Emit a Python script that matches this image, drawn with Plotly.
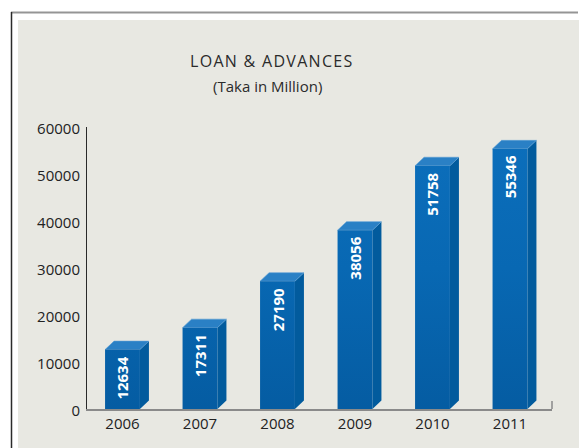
import plotly.graph_objects as go

# Loan & advances, Taka in million
years = ["2006", "2007", "2008", "2009", "2010", "2011"]
loans = [12634, 17311, 27190, 38056, 51758, 55346]
y_ticks = [0, 10000, 20000, 30000, 40000, 50000, 60000]

# canvas / plot-area geometry (pixels)
W, H = 579, 448
L, R, T, B = 87, 27, 127, 39
PW, PH = W - L - R, H - T - B
X_RANGE = [-0.458, len(years) - 0.458]
Y_RANGE = [0, 60000]

BAR_W = 0.45          # front face width in category units
DEPTH_PX = (9, 8.5)   # 3-D offset of the side / top faces in pixels
dx = DEPTH_PX[0] * (X_RANGE[1] - X_RANGE[0]) / PW
dy = DEPTH_PX[1] * (Y_RANGE[1] - Y_RANGE[0]) / PH

FONT = "Open Sans"


def px_x(p):
    return (p - L) / PW


def px_y(p):
    return (H - B - p) / PH


def polys(builder):
    xs, ys = [], []
    for i, v in enumerate(loans):
        px, py = builder(i, v)
        xs += px + [px[0], None]
        ys += py + [py[0], None]
    return xs, ys


def front(i, v):
    x0, x1 = i - BAR_W / 2, i + BAR_W / 2
    return [x0, x1, x1, x0], [0, 0, v, v]


def side(i, v):
    x1 = i + BAR_W / 2
    return [x1, x1 + dx, x1 + dx, x1], [0, dy, v + dy, v]


def top(i, v):
    x0, x1 = i - BAR_W / 2, i + BAR_W / 2
    return [x0, x1, x1 + dx, x0 + dx], [v, v, v + dy, v + dy]


fig = go.Figure()

sx, sy = polys(side)
fig.add_trace(go.Scatter(x=sx, y=sy, fill="toself", fillcolor="#025b9d",
                         line=dict(width=0), mode="lines", hoverinfo="skip",
                         showlegend=False))
tx, ty = polys(top)
fig.add_trace(go.Scatter(x=tx, y=ty, fill="toself", fillcolor="#2a80c5",
                         line=dict(width=0.6, color="#5a9ed5"), mode="lines",
                         hoverinfo="skip", showlegend=False))
fx, fy = polys(front)
fig.add_trace(go.Scatter(
    x=fx, y=fy, fill="toself", mode="lines", line=dict(width=0),
    fillgradient=dict(type="vertical", start=0, stop=60000,
                      colorscale=[[0, "#055ca2"], [0.5, "#0868b3"], [1, "#0c6fbc"]]),
    hoverinfo="skip", showlegend=False))

# value labels, rotated, just below each bar top
for i, v in enumerate(loans):
    fig.add_annotation(x=i, y=v, xref="x", yref="y", text=str(v), textangle=-90,
                       showarrow=False, yanchor="top", xanchor="center", yshift=-5,
                       font=dict(family=FONT, size=15, color="white", weight="bold"))

# titles
fig.add_annotation(x=px_x(272), y=px_y(61), xref="paper", yref="paper",
                   text='<span style="letter-spacing:1.3px">LOAN &amp; ADVANCES</span>',
                   showarrow=False, xanchor="center", yanchor="middle",
                   font=dict(family=FONT, size=16, color="#2b2b2b"))
fig.add_annotation(x=px_x(267), y=px_y(86), xref="paper", yref="paper",
                   text="(Taka in Million)", showarrow=False,
                   xanchor="center", yanchor="middle",
                   font=dict(family=FONT, size=15, color="#2b2b2b"))

shapes = [
    # light panel
    dict(type="rect", xref="paper", yref="paper", layer="below",
         x0=px_x(18), x1=px_x(W + 2), y0=px_y(H + 2), y1=px_y(20),
         fillcolor="#e8e8e2", line=dict(width=0)),
    # frame lines
    dict(type="line", xref="paper", yref="paper",
         x0=px_x(11), x1=px_x(578), y0=px_y(12.5), y1=px_y(12.5),
         line=dict(color="#959595", width=2)),
    dict(type="line", xref="paper", yref="paper",
         x0=px_x(11.5), x1=px_x(11.5), y0=px_y(12), y1=px_y(H + 2),
         line=dict(color="#2a2a2a", width=1.5)),
    # floor end tick
    dict(type="line", xref="paper", yref="paper",
         x0=1, x1=1, y0=0, y1=px_y(H - B - 8),
         line=dict(color="#8a8a8a", width=1.5)),
]

fig.update_layout(
    width=W, height=H,
    margin=dict(l=L, r=R, t=T, b=B, pad=0),
    paper_bgcolor="white", plot_bgcolor="rgba(0,0,0,0)",
    shapes=shapes,
    showlegend=False,
    xaxis=dict(range=X_RANGE, tickvals=list(range(len(years))), ticktext=years,
               showgrid=False, zeroline=False, showline=True, linecolor="#8a8a8a",
               linewidth=1.5, ticks="", fixedrange=True,
               tickfont=dict(family=FONT, size=15, color="#222")),
    yaxis=dict(range=Y_RANGE, tickvals=y_ticks, tickformat="d",
               showgrid=False, zeroline=False, showline=True, linecolor="#2a2a2a",
               linewidth=1, ticks="", ticklabelstandoff=3, ticklabelshift=2,
               fixedrange=True,
               tickfont=dict(family=FONT, size=15, color="#222")),
)

fig.write_html("out.html")
